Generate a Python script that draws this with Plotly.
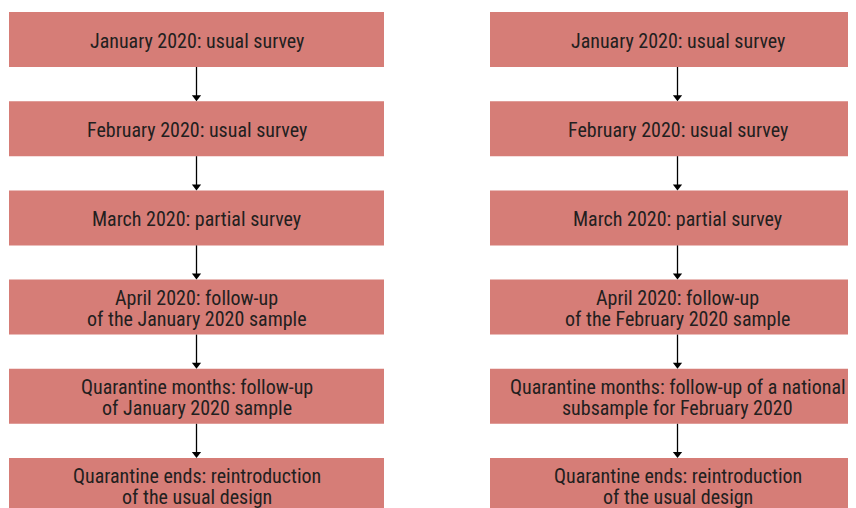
import plotly.graph_objects as go

# ---- data ----
left_steps = [
    "January 2020: usual survey",
    "February 2020: usual survey",
    "March 2020: partial survey",
    "April 2020: follow-up<br>of the January 2020 sample",
    "Quarantine months: follow-up<br>of January 2020 sample",
    "Quarantine ends: reintroduction<br>of the usual design",
]
right_steps = [
    "January 2020: usual survey",
    "February 2020: usual survey",
    "March 2020: partial survey",
    "April 2020: follow-up<br>of the February 2020 sample",
    "Quarantine months: follow-up of a national<br>subsample for February 2020",
    "Quarantine ends: reintroduction<br>of the usual design",
]
columns = [left_steps, right_steps]

# ---- style / geometry (in axis units) ----
BOX_COLOR = "#d67d77"
TEXT_COLOR = "#231f20"
FONT = "Roboto Condensed, Liberation Sans Narrow, Arial Narrow, Roboto, sans-serif"
FONT_SIZE = 20
LINE_GAP = 21          # px between text lines
TEXT_DROP = 1          # px the text sits below the box centre
box_w = 375 / 481      # column spacing = 1 unit
box_h = 55 / 89.2      # step spacing = 1 unit
px_y = 1 / 89.2        # one pixel in y units

# page body has an 8px margin: figure is placed at (8, 8) in the window
W, H = 848, 500
cx0 = 196.5 - 8        # left column centre, figure px
cy0 = 39.5 - 8         # first step centre, figure px

fig = go.Figure()
shapes = []
annotations = []
line_x, line_y, tip_x, tip_y = [], [], [], []

for c, steps in enumerate(columns):
    for i, label in enumerate(steps):
        shapes.append(dict(
            type="rect", xref="x", yref="y",
            x0=c - box_w / 2, x1=c + box_w / 2,
            y0=i - box_h / 2, y1=i + box_h / 2,
            fillcolor=BOX_COLOR, line=dict(width=0), layer="below",
        ))
        lines = label.split("<br>")
        n = len(lines)
        for k, txt in enumerate(lines):
            annotations.append(dict(
                x=c, y=i, xref="x", yref="y", text=txt, showarrow=False,
                font=dict(family=FONT, size=FONT_SIZE, color=TEXT_COLOR),
                align="center", xanchor="center", yanchor="middle",
                yshift=-(k - (n - 1) / 2) * LINE_GAP - TEXT_DROP,
            ))
        if i < len(steps) - 1:
            y_start = i + box_h / 2
            y_end = i + 1 - box_h / 2
            line_x += [c, c, None]
            line_y += [y_start, y_end - 4 * px_y, None]
            tip_x.append(c)
            tip_y.append(y_end - 4 * px_y)

fig.add_trace(go.Scatter(
    x=line_x, y=line_y, mode="lines",
    line=dict(color="black", width=1.3), hoverinfo="skip", showlegend=False,
))
fig.add_trace(go.Scatter(
    x=tip_x, y=tip_y, mode="markers",
    marker=dict(symbol="triangle-down", size=8, color="black", line=dict(width=0)),
    hoverinfo="skip", showlegend=False,
))

fig.update_layout(
    width=W, height=H,
    margin=dict(l=0, r=0, t=0, b=0),
    paper_bgcolor="white", plot_bgcolor="white",
    shapes=shapes, annotations=annotations,
    xaxis=dict(range=[-cx0 / 481, (W - cx0) / 481], visible=False, fixedrange=True),
    yaxis=dict(range=[(H - cy0) / 89.2, -cy0 / 89.2], visible=False, fixedrange=True),
)

fig.write_html("out.html")
